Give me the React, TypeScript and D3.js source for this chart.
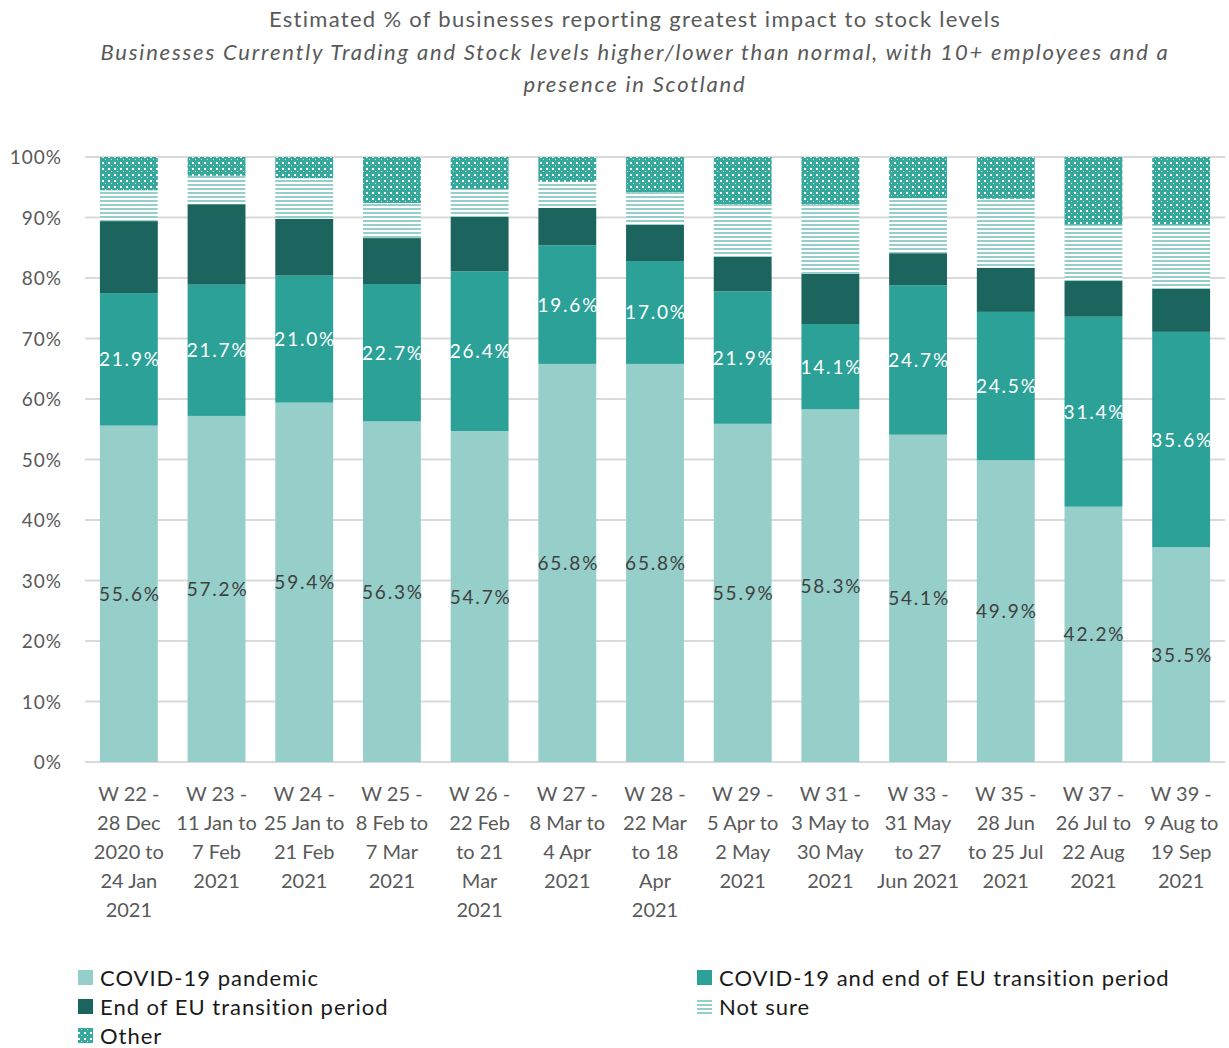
import React from "react";
import * as d3 from "d3";

const categories: string[][] = [
  ["W 22 -", "28 Dec", "2020 to", "24 Jan", "2021"],
  ["W 23 -", "11 Jan to", "7 Feb", "2021"],
  ["W 24 -", "25 Jan to", "21 Feb", "2021"],
  ["W 25 -", "8 Feb to", "7 Mar", "2021"],
  ["W 26 -", "22 Feb", "to 21", "Mar", "2021"],
  ["W 27  -", "8 Mar to", "4 Apr", "2021"],
  ["W 28 -", "22 Mar", "to 18", "Apr", "2021"],
  ["W 29 -", "5 Apr to", "2 May", "2021"],
  ["W 31 -", "3 May to", "30 May", "2021"],
  ["W 33 -", "31 May", "to 27", "Jun 2021"],
  ["W 35 -", "28 Jun", "to 25 Jul", "2021"],
  ["W 37 -", "26 Jul to", "22 Aug", "2021"],
  ["W 39 -", "9 Aug to", "19 Sep", "2021"],
];

const covid = [55.6, 57.2, 59.4, 56.3, 54.7, 65.8, 65.8, 55.9, 58.3, 54.1, 49.9, 42.2, 35.5];
const both = [21.9, 21.7, 21.0, 22.7, 26.4, 19.6, 17.0, 21.9, 14.1, 24.7, 24.5, 31.4, 35.6];
const euEnd = [11.9, 13.3, 9.4, 7.6, 9.0, 6.2, 6.0, 5.7, 8.3, 5.3, 7.3, 5.9, 7.1];
const notSure = [5.1, 4.7, 6.7, 5.8, 4.6, 4.3, 5.4, 8.7, 11.5, 9.1, 11.4, 9.3, 10.6];
const other = [5.5, 3.1, 3.5, 7.6, 5.3, 4.1, 5.8, 7.8, 7.8, 6.8, 6.9, 11.2, 11.2];

const yTicks = [0, 10, 20, 30, 40, 50, 60, 70, 80, 90, 100];

const seriesNames = [
  "COVID-19 pandemic",
  "COVID-19 and end of EU transition period",
  "End of EU transition period",
  "Not sure",
  "Other",
];

const FONT = "Lato, 'Open Sans', sans-serif";

export default function App() {
  const width = 1229;
  const height = 1048;
  const left = 85;
  const right = 1225;
  const top = 157;
  const bottom = 762;

  const x = d3
    .scaleBand<number>()
    .domain(d3.range(categories.length))
    .range([left, right])
    .paddingInner(0.34)
    .paddingOuter(0.17);
  const y = d3.scaleLinear().domain([0, 100]).range([bottom, top]);

  const seriesData = [covid, both, euEnd, notSure, other];
  const fills = ["#96CFC9", "#2CA198", "#1C645E", "url(#notSure)", "url(#other)"];

  const rows = categories.map((_, i) => {
    const o: any = { i };
    seriesData.forEach((s, k) => (o["s" + k] = s[i]));
    return o;
  });
  const stack = d3.stack<any>().keys(seriesData.map((_, k) => "s" + k));
  const stacked = stack(rows);

  const legendItems = [
    { k: 0, x: 78, y: 978 },
    { k: 1, x: 697, y: 978 },
    { k: 2, x: 78, y: 1007 },
    { k: 3, x: 697, y: 1007 },
    { k: 4, x: 78, y: 1036 },
  ];

  return (
    <div style={{ position: "absolute", left: 0, top: 0 }}>
      <svg width={width} height={height} style={{ display: "block", background: "#fff" }}>
        <defs>
          <pattern id="notSure" patternUnits="userSpaceOnUse" width={8} height={4}>
            <rect width={8} height={4} fill="#fff" />
            <rect y={0} width={8} height={2} fill="#96CFC9" />
          </pattern>
          <pattern id="other" patternUnits="userSpaceOnUse" width={6} height={6}>
            <rect width={6} height={6} fill="#36A89C" />
            <rect x={0} y={0} width={2} height={2} fill="#ffffff" />
            <rect x={3} y={3} width={1} height={1} fill="#d5eeeb" />
          </pattern>
        </defs>

        <text x={635} y={27} textAnchor="middle" fontFamily={FONT} fontSize={22} letterSpacing={1.3} fill="#595959">
          Estimated % of businesses reporting greatest impact to stock levels
        </text>
        <text x={635} y={60} textAnchor="middle" fontFamily={FONT} fontSize={22} letterSpacing={1.8} fontStyle="italic" fill="#595959">
          Businesses Currently Trading and Stock levels higher/lower than normal, with 10+ employees and a
        </text>
        <text x={635} y={92} textAnchor="middle" fontFamily={FONT} fontSize={22} letterSpacing={1.8} fontStyle="italic" fill="#595959">
          presence in Scotland
        </text>

        {yTicks.map((t) => (
          <g key={t}>
            <line x1={left} x2={right} y1={y(t)} y2={y(t)} stroke="#D9D9D9" strokeWidth={2} />
            <text x={62} y={y(t) + 7} textAnchor="end" fontFamily={FONT} fontSize={19} letterSpacing={1} fill="#595959">
              {t}%
            </text>
          </g>
        ))}

        {stacked.map((layer, k) => (
          <g key={k}>
            {layer.map((d, i) => (
              <rect
                key={i}
                x={x(i)}
                width={x.bandwidth()}
                y={y(d[1])}
                height={y(d[0]) - y(d[1])}
                fill={fills[k]}
              />
            ))}
          </g>
        ))}

        {stacked.slice(0, 2).map((layer, k) => (
          <g key={"l" + k}>
            {layer.map((d, i) => (
              <text
                key={i}
                x={(x(i) as number) + x.bandwidth() / 2 + 1}
                y={y((d[0] + d[1]) / 2) + 7}
                textAnchor="middle"
                fontFamily={FONT}
                fontSize={19}
                letterSpacing={1.8}
                fill={k === 0 ? "#404040" : "#ffffff"}
              >
                {seriesData[k][i].toFixed(1)}%
              </text>
            ))}
          </g>
        ))}

        {categories.map((lines, i) => (
          <text
            key={i}
            x={(x(i) as number) + x.bandwidth() / 2}
            textAnchor="middle"
            fontFamily={FONT}
            fontSize={20}
            fill="#595959"
          >
            {lines.map((l, j) => (
              <tspan key={j} x={(x(i) as number) + x.bandwidth() / 2} y={801 + j * 29}>
                {l}
              </tspan>
            ))}
          </text>
        ))}

        {legendItems.map((it) => (
          <g key={it.k}>
            <rect x={it.x} y={it.y - 8} width={15} height={15} fill={fills[it.k]} />
            <text x={it.x + 22} y={it.y + 8} fontFamily={FONT} fontSize={22} letterSpacing={1} fill="#1a1a1a">
              {seriesNames[it.k]}
            </text>
          </g>
        ))}
      </svg>
    </div>
  );
}
